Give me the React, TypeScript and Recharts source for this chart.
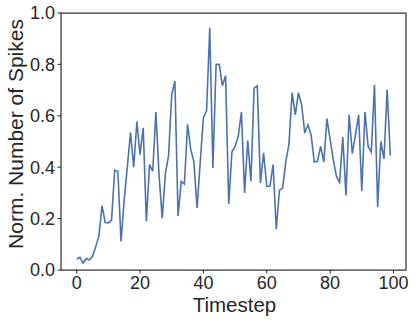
import { LineChart, Line, XAxis, YAxis, ReferenceArea } from "recharts";

const timesteps = [
  0, 1, 2, 3, 4, 5, 6, 7, 8, 9, 10, 11, 12, 13, 14, 15, 16, 17, 18, 19,
  20, 21, 22, 23, 24, 25, 26, 27, 28, 29, 30, 31, 32, 33, 34, 35, 36, 37, 38, 39,
  40, 41, 42, 43, 44, 45, 46, 47, 48, 49, 50, 51, 52, 53, 54, 55, 56, 57, 58, 59,
  60, 61, 62, 63, 64, 65, 66, 67, 68, 69, 70, 71, 72, 73, 74, 75, 76, 77, 78, 79,
  80, 81, 82, 83, 84, 85, 86, 87, 88, 89, 90, 91, 92, 93, 94, 95, 96, 97, 98, 99,
];

const spikes = [
  0.043, 0.049, 0.027, 0.045, 0.039, 0.053, 0.09, 0.131, 0.25, 0.185,
  0.183, 0.193, 0.388, 0.384, 0.111, 0.274, 0.403, 0.536, 0.4, 0.578,
  0.449, 0.553, 0.19, 0.41, 0.384, 0.615, 0.37, 0.202, 0.374, 0.445,
  0.682, 0.735, 0.21, 0.345, 0.334, 0.567, 0.47, 0.42, 0.241, 0.42,
  0.593, 0.619, 0.942, 0.397, 0.8, 0.8, 0.717, 0.756, 0.257, 0.459,
  0.481, 0.52, 0.615, 0.3, 0.504, 0.345, 0.708, 0.717, 0.339, 0.456,
  0.326, 0.326, 0.41, 0.159, 0.31, 0.319, 0.42, 0.49, 0.69, 0.604,
  0.69, 0.643, 0.533, 0.565, 0.526, 0.42, 0.423, 0.481, 0.42, 0.589,
  0.507, 0.429, 0.364, 0.341, 0.517, 0.29, 0.604, 0.453, 0.526, 0.604,
  0.308, 0.615, 0.481, 0.459, 0.721, 0.244, 0.5, 0.432, 0.702, 0.445,
];

const xTicks = [0, 20, 40, 60, 80, 100];
const yTicks = [0, 0.2, 0.4, 0.6, 0.8, 1.0];

const data = timesteps.map((t, i) => ({ t, v: spikes[i] }));

const font = "'Liberation Sans', Arial, sans-serif";
const ink = "#262626";

// axis titles placed by hand to sit where matplotlib put them
const XTitle = ({ viewBox }: any) => (
  <text x={viewBox.x + viewBox.width / 2 + 1} y={311.5} textAnchor="middle" fill={ink} fontSize={20.5} fontFamily={font}>
    Timestep
  </text>
);

const YTitle = ({ viewBox }: any) => {
  const cx = 22.5;
  const cy = viewBox.y + viewBox.height / 2 - 7.5;
  return (
    <text x={cx} y={cy} transform={`rotate(-90, ${cx}, ${cy})`} textAnchor="middle" fill={ink} fontSize={21} fontFamily={font}>
      Norm. Number of Spikes
    </text>
  );
};

export default function App() {
  return (
    <div style={{ position: "absolute", left: 0, top: 0, width: 416, height: 322, background: "#fff" }}>
      <style>{"body{margin:0}"}</style>
      <LineChart width={416} height={322} data={data} margin={{ top: 13, right: 10, left: 0, bottom: 0 }}>
        <XAxis
          dataKey="t" type="number" domain={[-4.95, 103.95]} ticks={xTicks} allowDataOverflow
          height={52} tickSize={3.5} tickMargin={3} axisLine={false}
          tickLine={{ stroke: ink, strokeWidth: 1 }}
          tick={{ fill: ink, fontSize: 18, fontFamily: font }}
          label={<XTitle />}
        />
        <YAxis
          type="number" domain={[0, 1]} ticks={yTicks} allowDataOverflow
          width={61} tickSize={3.5} tickMargin={2.5} axisLine={false}
          tickFormatter={(v: number) => v.toFixed(1)}
          tickLine={{ stroke: ink, strokeWidth: 1 }}
          tick={{ fill: ink, fontSize: 18, fontFamily: font }}
          label={<YTitle />}
        />
        <ReferenceArea x1={-4.95} x2={103.95} y1={0} y2={1} fill="none" stroke="#333" strokeWidth={1.25} ifOverflow="visible" />
        <Line dataKey="v" stroke="#4C72B0" strokeWidth={1.6} dot={false} isAnimationActive={false} />
      </LineChart>
    </div>
  );
}
